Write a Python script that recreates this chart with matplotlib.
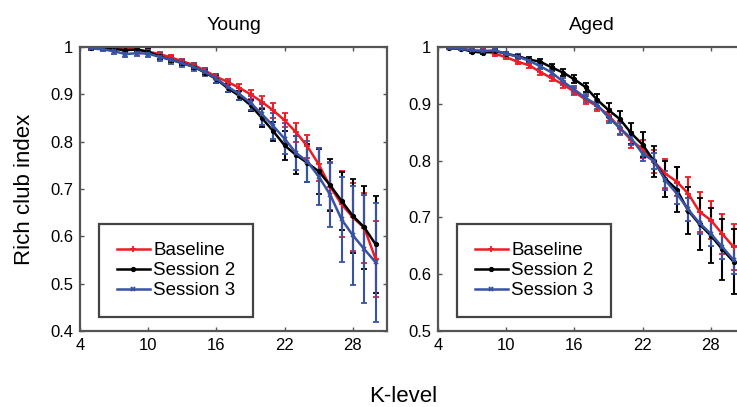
import numpy as np
import matplotlib
matplotlib.use('Agg')
import matplotlib.pyplot as plt
from matplotlib.lines import Line2D

plt.rcParams['font.family'] = ['Liberation Sans', 'DejaVu Sans']

# K-levels
k_level = np.arange(5, 31)

# Young : moyennes et demi-barres d'erreur
young_baseline = [0.998, 0.998, 0.997, 0.996, 0.994, 0.990, 0.985, 0.978, 0.970, 0.962, 0.950, 0.937, 0.926,
                  0.914, 0.900, 0.884, 0.866, 0.845, 0.820, 0.790, 0.752, 0.705, 0.668, 0.640, 0.618, 0.552]
young_session2 = [0.997, 0.997, 0.996, 0.993, 0.995, 0.990, 0.980, 0.973, 0.966, 0.958, 0.946, 0.932, 0.913,
                  0.897, 0.877, 0.850, 0.822, 0.792, 0.772, 0.755, 0.737, 0.708, 0.675, 0.643, 0.619, 0.583]
young_session3 = [0.997, 0.995, 0.991, 0.985, 0.987, 0.986, 0.979, 0.973, 0.966, 0.958, 0.947, 0.933, 0.916,
                  0.901, 0.882, 0.858, 0.833, 0.806, 0.776, 0.758, 0.726, 0.688, 0.636, 0.602, 0.573, 0.545]
young_err_baseline = [0.003, 0.003, 0.003, 0.004, 0.004, 0.005, 0.005, 0.005, 0.005, 0.005, 0.005, 0.005, 0.006,
                      0.008, 0.010, 0.012, 0.015, 0.015, 0.020, 0.025, 0.035, 0.049, 0.069, 0.072, 0.074, 0.081]
young_err_session2 = [0.003, 0.003, 0.004, 0.004, 0.004, 0.005, 0.005, 0.005, 0.005, 0.005, 0.006, 0.008, 0.008,
                      0.010, 0.012, 0.018, 0.020, 0.030, 0.040, 0.040, 0.048, 0.055, 0.061, 0.078, 0.087, 0.102]
young_err_session3 = [0.003, 0.004, 0.005, 0.006, 0.007, 0.008, 0.008, 0.008, 0.008, 0.008, 0.009, 0.010, 0.012,
                      0.012, 0.015, 0.022, 0.028, 0.033, 0.036, 0.044, 0.060, 0.068, 0.090, 0.105, 0.114, 0.125]

# Aged
aged_baseline = [0.998, 0.997, 0.994, 0.993, 0.988, 0.982, 0.974, 0.968, 0.956, 0.945, 0.934, 0.921, 0.907,
                 0.896, 0.880, 0.857, 0.836, 0.820, 0.798, 0.777, 0.763, 0.742, 0.710, 0.695, 0.671, 0.648]
aged_session2 = [0.998, 0.997, 0.992, 0.990, 0.993, 0.988, 0.984, 0.978, 0.974, 0.964, 0.955, 0.943, 0.929,
                 0.907, 0.889, 0.873, 0.848, 0.828, 0.799, 0.768, 0.749, 0.712, 0.688, 0.668, 0.644, 0.622]
aged_session3 = [0.998, 0.997, 0.994, 0.993, 0.994, 0.988, 0.983, 0.976, 0.966, 0.955, 0.939, 0.925, 0.910,
                 0.898, 0.876, 0.857, 0.839, 0.812, 0.799, 0.765, 0.742, 0.714, 0.690, 0.671, 0.648, 0.625]
aged_err_baseline = [0.002, 0.002, 0.003, 0.003, 0.003, 0.004, 0.004, 0.005, 0.005, 0.005, 0.006, 0.006, 0.007,
                     0.008, 0.010, 0.012, 0.014, 0.016, 0.020, 0.025, 0.025, 0.030, 0.035, 0.033, 0.035, 0.040]
aged_err_session2 = [0.002, 0.002, 0.003, 0.003, 0.003, 0.004, 0.004, 0.005, 0.005, 0.006, 0.006, 0.007, 0.008,
                     0.010, 0.012, 0.015, 0.018, 0.022, 0.027, 0.032, 0.039, 0.041, 0.046, 0.049, 0.054, 0.057]
aged_err_session3 = [0.002, 0.002, 0.003, 0.003, 0.003, 0.004, 0.004, 0.005, 0.005, 0.006, 0.006, 0.007, 0.007,
                     0.008, 0.009, 0.010, 0.012, 0.013, 0.014, 0.016, 0.018, 0.020, 0.020, 0.022, 0.022, 0.025]

labels = ['Baseline', 'Session 2', 'Session 3']
colors = ['#ee1c25', '#000000', '#3953a4']
markers = ['+', '.', 'x']
x_ticks = [4, 10, 16, 22, 28]

fig = plt.figure(figsize=(7.37, 4.07), dpi=100)
ax1 = fig.add_axes([80 / 737, 1 - 331 / 407, 307 / 737, 284 / 407])
ax2 = fig.add_axes([438 / 737, 1 - 331 / 407, 307 / 737, 284 / 407])

panels = [
    (ax1, 'Young', [young_baseline, young_session2, young_session3],
     [young_err_baseline, young_err_session2, young_err_session3], (0.4, 1.0),
     [0.4, 0.5, 0.6, 0.7, 0.8, 0.9, 1.0], ['0.4', '0.5', '0.6', '0.7', '0.8', '0.9', '1']),
    (ax2, 'Aged', [aged_baseline, aged_session2, aged_session3],
     [aged_err_baseline, aged_err_session2, aged_err_session3], (0.5, 1.0),
     [0.5, 0.6, 0.7, 0.8, 0.9, 1.0], ['0.5', '0.6', '0.7', '0.8', '0.9', '1']),
]

def marker_size(mk):
    return 5 if mk != 'x' else 3.5

for ax, title, series, errs, ylim, yticks, yticklabels in panels:
    for vals, err, col, mk in zip(series, errs, colors, markers):
        ax.errorbar(k_level, vals, yerr=err, color=col, marker=mk, markersize=marker_size(mk),
                    markeredgewidth=1.3, linewidth=1.8, elinewidth=1.5, capsize=2.2, capthick=1.5)
    ax.set_xlim(4, 31)
    ax.set_ylim(*ylim)
    ax.set_xticks(x_ticks)
    ax.set_yticks(yticks)
    ax.set_yticklabels(yticklabels)
    ax.tick_params(direction='in', top=True, right=True, length=3, width=1, color='#555555',
                   labelsize=12, pad=5)
    for sp in ax.spines.values():
        sp.set_color('#555555')
        sp.set_linewidth(1.6)
    ax.set_title(title, fontsize=14, pad=12.5)

    # légende : trait + marqueur seulement, sans barres d'erreur
    handles = [Line2D([], [], color=c, marker=m, markersize=marker_size(m), markeredgewidth=1.3,
                      linewidth=1.8) for c, m in zip(colors, markers)]
    leg = ax.legend(handles, labels, loc='lower left', bbox_to_anchor=(0.062, 0.049), fontsize=13.5,
                    fancybox=False, framealpha=1, edgecolor='#444444', handlelength=1.75,
                    handletextpad=0.2, labelspacing=0.15, borderpad=0.95, borderaxespad=0)
    leg.get_frame().set_linewidth(1.6)

fig.text(0.033, 1 - 189 / 407, 'Rich club index', rotation=90, ha='center', va='center', fontsize=16)
fig.text(403 / 737, 1 - 396 / 407, 'K-level', ha='center', va='center', fontsize=16)

fig.savefig('out.png', dpi=100)
